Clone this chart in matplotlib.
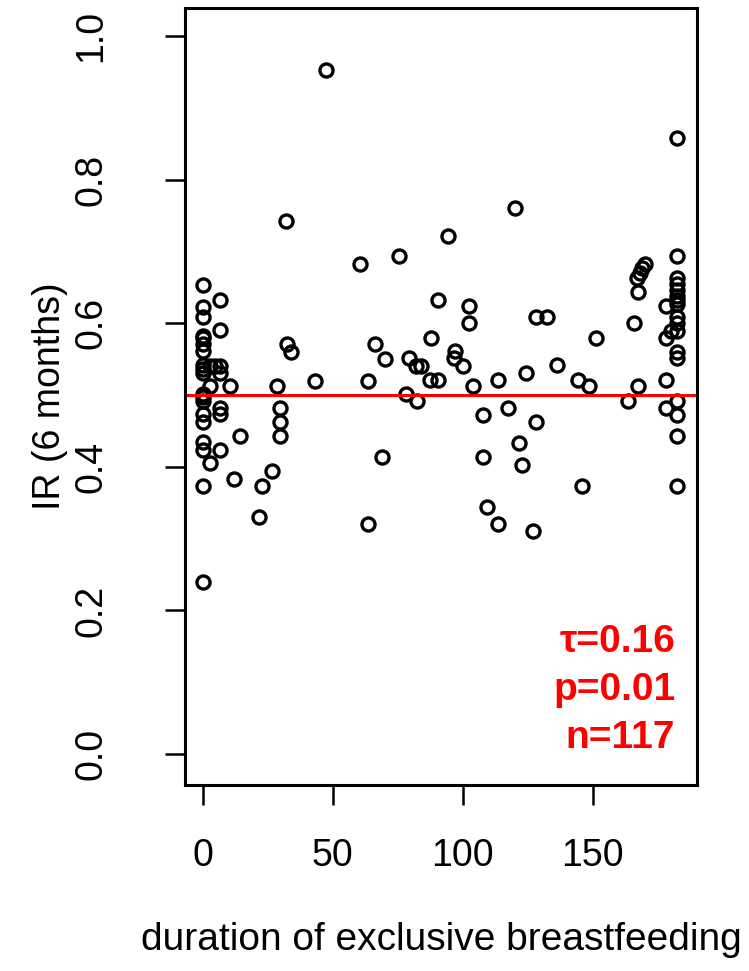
import matplotlib.pyplot as plt
import numpy as np

plt.rcParams['font.family'] = ['Liberation Sans', 'DejaVu Sans']

# duration of exclusive breastfeeding (days) and IR at 6 months
days = [0, 0, 0, 0, 0, 0, 0, 0, 0, 0, 0, 0, 0, 0, 0, 0, 0, 0, 0,
        2.8, 4.7, 2.8, 2.8, 6.7, 6.7, 6.7, 6.7, 6.7, 6.7, 6.7,
        10.5, 14.5, 12.2, 21.7, 22.9, 26.8, 28.4, 29.7, 29.7, 29.7,
        32.3, 34.0, 32.0,
        43.2, 47.5, 60.5, 63.5, 63.5, 66.2, 68.8, 70.2, 75.6, 78.2,
        79.5, 82.0, 82.3, 83.8, 87.4, 87.8, 90.4, 90.6, 94.5, 96.7,
        97.0, 100.0, 102.5, 102.5, 103.8, 107.9, 107.9, 109.5, 113.5, 113.5,
        117.5, 120.1, 121.7, 122.9, 124.2, 126.9, 128.2, 128.2, 132.5, 136.4,
        144.5, 146.0, 148.7, 151.3, 163.5, 166.0, 166.9, 167.5, 167.5, 168.2,
        169.1, 170.1, 178.1, 178.1, 178.1, 178.1, 180.1,
        182.3, 182.3, 182.3, 182.3, 182.3, 182.3, 182.3, 182.3, 182.3,
        182.3, 182.3, 182.3, 182.3, 182.3, 182.3, 182.3, 182.3]
ir = [0.653, 0.623, 0.608, 0.580, 0.571, 0.561, 0.542, 0.531, 0.502, 0.492,
      0.473, 0.462, 0.434, 0.424, 0.373, 0.240, 0.582, 0.536, 0.497,
      0.541, 0.541, 0.513, 0.405, 0.632, 0.590, 0.531, 0.482, 0.474, 0.423, 0.541,
      0.513, 0.443, 0.383, 0.330, 0.374, 0.394, 0.512, 0.482, 0.462, 0.443,
      0.571, 0.560, 0.742,
      0.520, 0.953, 0.682, 0.520, 0.320, 0.571, 0.413, 0.550, 0.693, 0.501,
      0.551, 0.541, 0.491, 0.541, 0.521, 0.579, 0.633, 0.521, 0.721, 0.551,
      0.562, 0.541, 0.624, 0.600, 0.512, 0.472, 0.413, 0.344, 0.521, 0.320,
      0.482, 0.761, 0.433, 0.403, 0.531, 0.310, 0.609, 0.462, 0.609, 0.542,
      0.521, 0.374, 0.512, 0.580, 0.492, 0.600, 0.663, 0.643, 0.512, 0.670,
      0.677, 0.683, 0.624, 0.579, 0.521, 0.482, 0.589,
      0.858, 0.693, 0.663, 0.654, 0.646, 0.638, 0.632, 0.609, 0.589, 0.560,
      0.551, 0.492, 0.472, 0.443, 0.374, 0.627, 0.600]

xticks = [0, 50, 100, 150]
yticks = [0.0, 0.2, 0.4, 0.6, 0.8, 1.0]
stats = ["\u03c4=0.16", "p=0.01", "n=117"]

fig = plt.figure(figsize=(7.49, 9.71), dpi=100)
ax = fig.add_axes([0.247, 0.1916, 0.6836, 0.8002])

ax.plot(days, ir, "o", mfc="none", mec="black", ms=9.4, mew=2.4)
ax.axhline(0.5, color="red", lw=2.2)

ax.set_xlim(-6.8, 190.1)
ax.set_ylim(-0.043, 1.039)
ax.set_xticks(xticks)
ax.set_xticklabels([str(t) for t in xticks])
ax.set_yticks(yticks)
ax.set_yticklabels([f"{t:.1f}" for t in yticks], rotation=90, va="center")

for s in ax.spines.values():
    s.set_linewidth(2.2)
ax.tick_params(direction="out", length=14.4, width=1.8, labelsize=27)
ax.tick_params(axis="x", pad=24)
ax.tick_params(axis="y", pad=40)

ax.set_xlabel("duration of exclusive breastfeeding", fontsize=28)
ax.xaxis.set_label_coords(0.5, -0.1995)
ax.xaxis.label.set_va("center")
ax.set_ylabel("IR (6 months)", fontsize=27)
ax.yaxis.set_label_coords(-0.264, 0.5)
ax.yaxis.label.set_va("center")

for i, s in enumerate(stats):
    ax.text(181.7, 0.156 - i * 0.067, s, color="red", fontsize=28,
            fontweight="bold", ha="right", va="center")

fig.savefig("out.png", dpi=100)
